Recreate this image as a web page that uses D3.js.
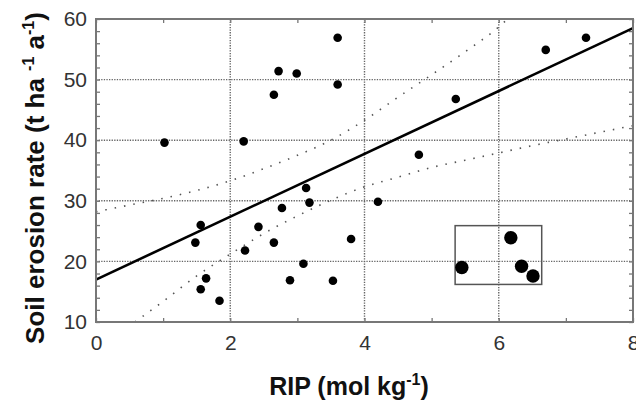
<!DOCTYPE html>
<meta charset="utf-8">
<script src="https://d3js.org/d3.v7.min.js"></script>
<style>
  body { margin: 0; background: white; }
  text { font-family: 'Liberation Sans', Arial, sans-serif; }
</style>
<body>
<div id="chart"></div>
<script>

// measured points (RIP, erosion rate)
var ripX = [1.02, 2.20, 1.56, 1.48, 2.22, 2.42, 1.64, 1.56, 1.84, 2.65, 3.60, 2.72, 2.99, 3.60,
            2.65, 3.13, 3.18, 2.77, 3.80, 3.09, 2.89, 3.53, 4.20, 5.36, 6.70, 7.30, 4.81]
var erosionY = [39.6, 39.8, 26.0, 23.1, 21.8, 25.7, 17.2, 15.4, 13.5, 23.1, 56.9, 51.4, 51.0, 49.2,
                47.5, 32.1, 29.7, 28.8, 23.7, 19.6, 16.9, 16.8, 29.85, 46.8, 54.9, 56.9, 37.6]

// highlighted points (inside the box)
var hiX = [5.45, 6.18, 6.34, 6.51]
var hiY = [19.0, 23.9, 19.2, 17.6]
var boxX = [5.35, 6.64]
var boxY = [16.2, 25.9]

// regression line
var fitX = [0, 8]
var fitY = [17, 58.5]

// confidence bands
var upperX = [0, 0.5, 1, 1.5, 2, 2.5, 3, 3.5, 4, 4.5, 5, 5.5, 6, 6.13]
var upperY = [28.2, 29.3, 30.4, 31.7, 33.3, 35.3, 37.5, 40.0, 43.3, 47.1, 50.8, 54.6, 58.7, 60]
var lowerX = [0.58, 1, 1.5, 2, 2.5, 3, 3.5, 4, 4.5, 5, 5.5, 6, 6.5, 7, 7.5, 8]
var lowerY = [10, 13.4, 17.6, 21.2, 24.6, 27.5, 30.1, 32.3, 33.9, 35.5, 36.7, 37.9, 39.1, 40.2, 41.3, 42.4]

var xTicks = [0, 2, 4, 6, 8]
var yTicks = [10, 20, 30, 40, 50, 60]

var width = 636,
    height = 401
var margin = {left: 96, right: 3, top: 19, bottom: 79}

var svg = d3.select("#chart")
  .append("svg")
    .attr("width", width)
    .attr("height", height)

var x = d3.scaleLinear().domain([0, 8]).range([margin.left, width - margin.right])
var y = d3.scaleLinear().domain([10, 60]).range([height - margin.bottom, margin.top])

// grid
svg.append("g")
  .selectAll("line")
  .data(xTicks.slice(1, -1))
  .enter().append("line")
    .attr("x1", d => x(d)).attr("x2", d => x(d))
    .attr("y1", y(10)).attr("y2", y(60))
    .attr("stroke", "#666").attr("stroke-width", 1.4)
    .attr("stroke-dasharray", "1.3,1.3")
svg.append("g")
  .selectAll("line")
  .data(yTicks.slice(1, -1))
  .enter().append("line")
    .attr("y1", d => y(d)).attr("y2", d => y(d))
    .attr("x1", x(0)).attr("x2", x(8))
    .attr("stroke", "#666").attr("stroke-width", 1.4)
    .attr("stroke-dasharray", "1.3,1.3")

// minor ticks, pointing inward
function minor(g, axis) { g.call(axis); g.select(".domain").remove(); g.selectAll("line").attr("stroke", "#777").attr("stroke-width", 1.3) }
svg.append("g").attr("transform", "translate(0," + y(10) + ")")
  .call(minor, d3.axisBottom(x).tickValues(d3.range(0, 9)).tickSize(-4).tickFormat(""))
svg.append("g").attr("transform", "translate(0," + y(60) + ")")
  .call(minor, d3.axisTop(x).tickValues(d3.range(0, 9)).tickSize(-4).tickFormat(""))
svg.append("g").attr("transform", "translate(" + x(0) + ",0)")
  .call(minor, d3.axisLeft(y).tickValues(d3.range(10, 61, 2)).tickSize(-4).tickFormat(""))
svg.append("g").attr("transform", "translate(" + x(8) + ",0)")
  .call(minor, d3.axisRight(y).tickValues(d3.range(10, 61, 2)).tickSize(-4).tickFormat(""))

// tick labels
function labels(g) {
  g.select(".domain").remove()
  g.selectAll("line").remove()
  g.selectAll("text").attr("font-size", 21).attr("fill", "#333")
    .attr("font-family", "'Liberation Sans', Arial, sans-serif")
}
svg.append("g").attr("transform", "translate(0," + y(10) + ")")
  .call(d3.axisBottom(x).tickValues(xTicks).tickSize(0).tickPadding(13))
  .call(labels)
svg.append("g").attr("transform", "translate(" + x(0) + ",0)")
  .call(d3.axisLeft(y).tickValues(yTicks).tickSize(0).tickPadding(9))
  .call(labels)

// confidence bands
var line = d3.line().x(d => x(d[0])).y(d => y(d[1])).curve(d3.curveMonotoneX)
svg.append("path")
  .attr("d", line(d3.zip(upperX, upperY)))
  .attr("fill", "none").attr("stroke", "#555").attr("stroke-width", 1.6)
  .attr("stroke-dasharray", "1.5,8")
svg.append("path")
  .attr("d", line(d3.zip(lowerX, lowerY)))
  .attr("fill", "none").attr("stroke", "#555").attr("stroke-width", 1.6)
  .attr("stroke-dasharray", "1.5,8")

// regression line
svg.append("path")
  .attr("d", line(d3.zip(fitX, fitY)))
  .attr("fill", "none").attr("stroke", "black").attr("stroke-width", 2.6)

// box
svg.append("rect")
  .attr("x", x(boxX[0])).attr("y", y(boxY[1]))
  .attr("width", x(boxX[1]) - x(boxX[0]))
  .attr("height", y(boxY[0]) - y(boxY[1]))
  .attr("fill", "none").attr("stroke", "#555").attr("stroke-width", 1.5)

// points
svg.append("g")
  .selectAll("circle")
  .data(d3.zip(ripX, erosionY))
  .enter().append("circle")
    .attr("cx", d => x(d[0])).attr("cy", d => y(d[1]))
    .attr("r", 4.3).attr("fill", "black")
svg.append("g")
  .selectAll("circle")
  .data(d3.zip(hiX, hiY))
  .enter().append("circle")
    .attr("cx", d => x(d[0])).attr("cy", d => y(d[1]))
    .attr("r", 6.7).attr("fill", "black")

// frame
svg.append("rect")
  .attr("x", x(0)).attr("y", y(60))
  .attr("width", x(8) - x(0)).attr("height", y(10) - y(60))
  .attr("fill", "none").attr("stroke", "#777").attr("stroke-width", 2)

// axis titles
var xt = svg.append("text")
  .attr("x", 349).attr("y", 395)
  .attr("text-anchor", "middle")
  .attr("font-size", 25).attr("font-weight", "bold").attr("fill", "#111")
xt.append("tspan").text("RIP (mol kg")
xt.append("tspan").text("-1").attr("font-size", 16).attr("dy", -10)
xt.append("tspan").text(")").attr("dy", 10)

var yt = svg.append("text")
  .attr("transform", "translate(44,178) rotate(-90)")
  .attr("text-anchor", "middle")
  .attr("font-size", 26).attr("font-weight", "bold").attr("fill", "#111")
yt.append("tspan").text("Soil erosion rate (t ha ")
yt.append("tspan").text("-1").attr("font-size", 16).attr("dy", -10)
yt.append("tspan").text("  a").attr("dy", 10)
yt.append("tspan").text("-1").attr("font-size", 16).attr("dy", -10)
yt.append("tspan").text(")").attr("dy", 10)

</script>
</body>
